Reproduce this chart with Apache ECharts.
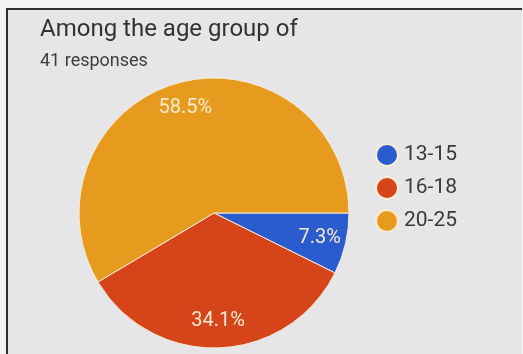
<!DOCTYPE html>
<html>
<head>
<meta charset="utf-8">
<script src="https://cdn.jsdelivr.net/npm/echarts@6/dist/echarts.min.js"></script>
<style>
  html, body { margin: 0; padding: 0; width: 523px; height: 354px; background: #f3f3f4; overflow: hidden; }
  #frame {
    position: absolute; left: 6px; top: 8px; width: 514px; height: 346px;
    border-top: 2px solid #2e2e2e; border-left: 2px solid #2e2e2e;
    background: #e6e6e8;
  }
  #chart { width: 514px; height: 346px; }
</style>
</head>
<body>
<div id="frame"><div id="chart"></div></div>
<script>
// Survey question: respondent age groups (41 responses)
const ageGroups = ['13-15', '16-18', '20-25'];
const responseCounts = [3, 14, 24];
const sliceColors = ['#2a5bcf', '#d6441a', '#e69b1e'];

const titleText = 'Among the age group of';
const subtitleText = '41 responses';

const pieData = ageGroups.map((name, i) => ({
  name: name,
  value: responseCounts[i],
  itemStyle: { color: sliceColors[i] }
}));

const chart = echarts.init(document.getElementById('chart'), null, { renderer: 'canvas' });

const fontFamily = 'Roboto, "Noto Sans", sans-serif';
const center = [206, 203];
const outerRadius = 135;

chart.setOption({
  backgroundColor: 'transparent',
  animation: false,
  title: {
    text: titleText,
    subtext: subtitleText,
    left: 27,
    top: 3,
    itemGap: 10,
    textStyle: { fontFamily: fontFamily, fontSize: 24, fontWeight: 'normal', color: '#333333' },
    subtextStyle: { fontFamily: fontFamily, fontSize: 18, fontWeight: 'normal', color: '#3e3e3e' }
  },
  legend: {
    orient: 'vertical',
    left: 362,
    top: 128,
    itemWidth: 22,
    itemHeight: 22,
    itemGap: 9,
    icon: 'circle',
    data: ageGroups,
    textStyle: { fontFamily: fontFamily, fontSize: 21, color: '#3a3a3a', padding: [0, 0, 0, 1] }
  },
  series: [
    {
      // filled slices
      type: 'pie',
      center: center,
      radius: [0, outerRadius],
      startAngle: 0,
      clockwise: true,
      avoidLabelOverlap: false,
      label: { show: false },
      labelLine: { show: false },
      itemStyle: { borderColor: '#f6ecd6', borderWidth: 1 },
      emphasis: { disabled: true },
      data: pieData
    },
    {
      // percentage labels placed toward the rim
      type: 'pie',
      center: center,
      radius: [76, outerRadius],
      startAngle: 0,
      clockwise: true,
      silent: true,
      legendHoverLink: false,
      avoidLabelOverlap: false,
      itemStyle: { color: 'rgba(0,0,0,0)', borderWidth: 0 },
      label: {
        show: true,
        position: 'inside',
        fontFamily: fontFamily,
        fontSize: 20,
        color: '#f4ead2',
        formatter: p => p.percent.toFixed(1) + '%'
      },
      labelLine: { show: false },
      emphasis: { disabled: true },
      data: ageGroups.map((name, i) => ({ name: name, value: responseCounts[i] }))
    }
  ]
});
</script>
</body>
</html>
